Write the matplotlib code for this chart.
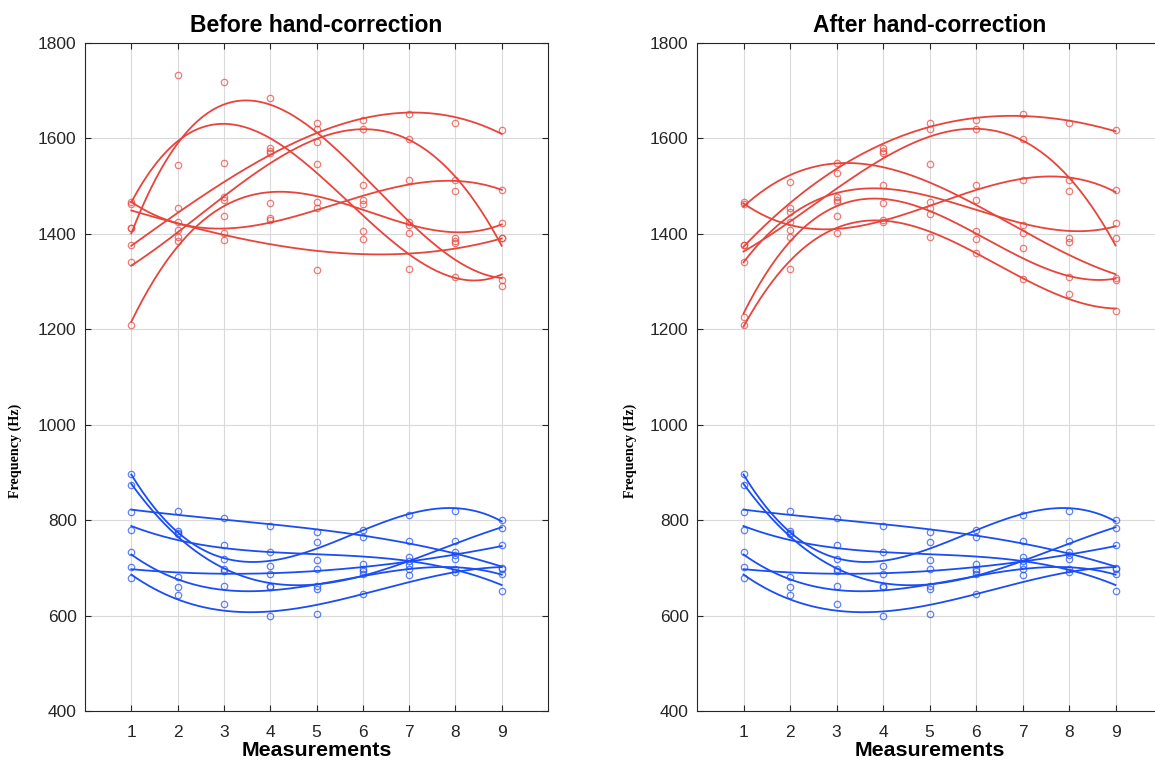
import numpy as np
import matplotlib
matplotlib.use("Agg")
import matplotlib.pyplot as plt

x = np.arange(1, 10)

# ---- Before hand-correction: red (upper formant) series ----
before_red_A = [1412, 1544, 1718, 1684, 1592, 1503, 1419, 1385, 1290]
before_red_B = [1412, 1733, 1548, 1579, 1546, 1406, 1402, 1309, 1303]
before_red_C1 = [1376, 1455, 1478, 1574, 1632, 1638, 1652, 1632, 1617]
before_red_C2 = [1340, 1408, 1437, 1569, 1620, 1619, 1599, 1490, 1391]
before_red_D = [1209, 1384, 1471, 1465, 1467, 1472, 1425, 1391, 1423]
before_red_E = [1467, 1424, 1402, 1434, 1455, 1463, 1512, 1512, 1491]
before_red_F = [1463, 1394, 1388, 1430, 1324, 1390, 1327, 1380, 1391]

# ---- After hand-correction: red series ----
after_red_P = [1467, 1508, 1527, 1569, 1546, 1406, 1402, 1383, 1307]
after_red_Q = [1463, 1424, 1402, 1430, 1455, 1503, 1512, 1512, 1491]
after_red_R1 = [1376, 1455, 1548, 1579, 1632, 1638, 1652, 1632, 1617]
after_red_R2 = [1376, 1408, 1478, 1574, 1620, 1619, 1599, 1490, 1391]
after_red_X = [1340, 1445, 1472, 1503, 1467, 1472, 1419, 1391, 1423]
after_red_Y = [1226, 1394, 1466, 1465, 1441, 1390, 1370, 1309, 1303]
after_red_Z = [1209, 1326, 1437, 1425, 1394, 1359, 1305, 1275, 1238]

# ---- Blue (lower formant) series, same in both panels ----
blue_1 = [873, 773, 698, 663, 663, 693, 705, 757, 783]
blue_2 = [896, 777, 718, 704, 755, 779, 811, 819, 801]
blue_3 = [817, 819, 805, 787, 775, 765, 757, 734, 699]
blue_4 = [779, 770, 748, 734, 717, 708, 722, 718, 651]
blue_5 = [734, 660, 663, 660, 655, 688, 698, 697, 688]
blue_6 = [701, 681, 693, 688, 698, 698, 714, 726, 747]
blue_7 = [678, 643, 625, 599, 604, 645, 686, 692, 697]

titles = ["Before hand-correction", "After hand-correction"]
x_ticks = list(range(1, 10))
y_ticks = list(range(400, 1801, 200))

before_red = [before_red_A, before_red_B, before_red_C1, before_red_C2,
              before_red_D, before_red_E, before_red_F]
after_red = [after_red_P, after_red_Q, after_red_R1, after_red_R2,
             after_red_X, after_red_Y, after_red_Z]
blue = [blue_1, blue_2, blue_3, blue_4, blue_5, blue_6, blue_7]

RED = "#E8443C"
BLUE = "#1A4DF5"

plt.rcParams['font.family'] = ['Liberation Sans', 'DejaVu Sans']

fig = plt.figure(figsize=(11.55, 7.65), dpi=100)
W, H = 1155.0, 765.0
bottom = (H - 711) / H
height = (711 - 43) / H
ax_positions = [
    [85 / W, bottom, (548 - 85) / W, height],
    [697 / W, bottom, (1162 - 697) / W, height],
]
ylabel_x = [-0.136, -0.129]

xf = np.linspace(1, 9, 200)

def draw(ax, red_sets, blue_sets, title, ylx):
    ax.set_xlim(0, 10)
    ax.set_ylim(400, 1800)
    ax.set_xticks(x_ticks)
    ax.set_yticks(y_ticks)
    ax.grid(True, color="#DADADA", linewidth=0.8)
    ax.set_axisbelow(True)
    for sets, col in ((red_sets, RED), (blue_sets, BLUE)):
        for s in sets:
            c = np.polyfit(x, s, 3)
            ax.plot(xf, np.polyval(c, xf), color=col, linewidth=1.3, zorder=3)
            ax.plot(x, s, linestyle="none", marker="o", markersize=4.6,
                    markerfacecolor="none", markeredgecolor=col,
                    markeredgewidth=0.9, alpha=0.7, zorder=4)
    ax.tick_params(direction="in", length=4, width=0.8, colors="#262626",
                   labelsize=12.5, top=True, right=True, pad=6)
    ax.tick_params(axis="x", pad=10)
    for sp in ax.spines.values():
        sp.set_color("#262626")
        sp.set_linewidth(0.8)
    ax.set_title(title, fontsize=16.5, fontweight="bold", pad=8)
    ax.set_xlabel("Measurements", fontsize=15.4, fontweight="bold", labelpad=0.5)
    ax.set_ylabel("Frequency (Hz)", fontsize=10.2, fontweight="bold",
                  family=["Liberation Serif", "DejaVu Serif"])
    ax.yaxis.set_label_coords(ylx, 0.39)

for pos, reds, title, ylx in zip(ax_positions, [before_red, after_red], titles, ylabel_x):
    ax = fig.add_axes(pos)
    draw(ax, reds, blue, title, ylx)

fig.savefig("out.png", dpi=100)
